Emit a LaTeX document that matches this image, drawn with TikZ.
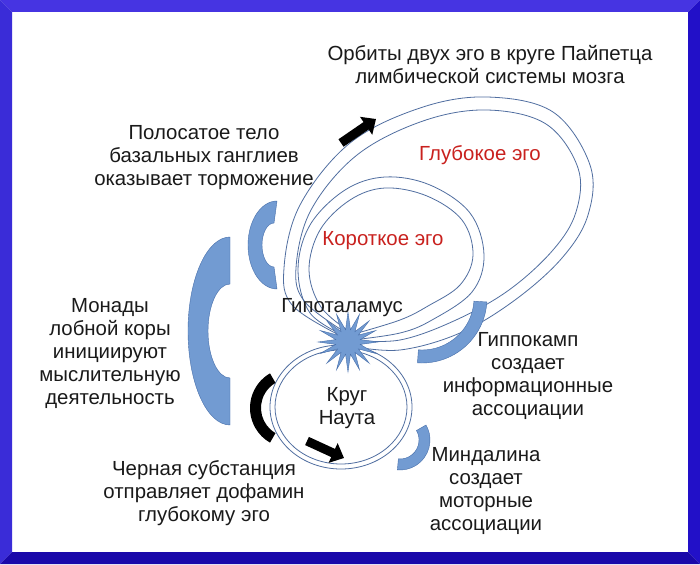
\documentclass[tikz,border=0pt]{standalone}
\usepackage{fontspec}
\setmainfont{Liberation Sans}
\usetikzlibrary{shapes.geometric,arrows.meta}

\definecolor{frametop}{RGB}{70,52,226}
\definecolor{frameleft}{RGB}{58,44,216}
\definecolor{frameright}{RGB}{34,16,200}
\definecolor{framebottom}{RGB}{26,8,170}
\definecolor{orbitline}{RGB}{80,110,160}
\definecolor{arcblue}{RGB}{114,155,210}
\definecolor{arcedge}{RGB}{70,110,170}
\definecolor{ink}{RGB}{26,26,26}
\definecolor{egored}{RGB}{201,33,30}

\tikzset{
  orbit/.style={draw=orbitline, line width=0.8pt},
  blockarc/.style={fill=arcblue, draw=arcedge, line width=0.4pt},
  fatarrow/.style={draw=black, line width=9pt, -{Triangle[length=12pt,width=21pt]}},
  txt/.style={font=\fontsize{20.4}{23}\selectfont, align=center, text=ink},
  ego/.style={txt, text=egored}
}

\begin{document}
\begin{tikzpicture}[x=1pt,y=-1pt]
  \useasboundingbox (0,0) rectangle (700,564);
  \fill[white] (0,0) rectangle (700,564);
  \fill[frametop] (0,0) -- (700,0) -- (688,12) -- (12,12) -- cycle;
  \fill[frameleft] (0,0) -- (12,12) -- (12,552) -- (0,564) -- cycle;
  \fill[frameright] (700,0) -- (700,564) -- (688,552) -- (688,12) -- cycle;
  \fill[framebottom] (0,564) -- (12,552) -- (688,552) -- (700,564) -- cycle;

  \draw[orbit] plot[smooth, tension=0.6] coordinates {(345,338) (293,306) (284,268) (300,205) (350,143) (420,108) (487,97) (553,112) (590,165) (588,215) (562,258) (515,300) (460,333) (400,350) (350,346)};
  \draw[orbit] plot[smooth, tension=0.6] coordinates {(348,334) (305,302) (296,268) (311,210) (357,155) (423,121) (487,110) (546,124) (578,168) (576,212) (553,250) (509,290) (456,320) (400,340) (350,340)};
  \draw[orbit] plot[smooth, tension=0.6] coordinates {(345,336) (310,313) (298,270) (310,225) (345,190) (385,177) (430,185) (470,213) (484,255) (472,292) (432,320) (400,333) (352,340)};
  \draw[orbit] plot[smooth, tension=0.6] coordinates {(350,332) (321,307) (309,270) (320,230) (350,200) (385,188) (427,196) (462,220) (473,255) (460,285) (428,306) (400,320) (354,334)};

  \draw[orbit] (341,407) ellipse [x radius=71, y radius=62];
  \draw[orbit] (341,407) ellipse [x radius=66, y radius=57];

  \filldraw[blockarc] (230,237) arc[start angle=270, end angle=90, x radius=42, y radius=94]
    -- (230,378) arc[start angle=90, end angle=270, x radius=22, y radius=47] -- cycle;
  \filldraw[blockarc] (277,201) arc[start angle=270, end angle=90, x radius=29, y radius=44]
    -- (274,267) arc[start angle=90, end angle=270, x radius=12, y radius=22] -- cycle;
  \filldraw[blockarc] ([shift={(3.5:65)}]422,298) arc[start angle=3.5, end angle=94, radius=65]
    -- ([shift={(94:52)}]422,298) arc[start angle=94, end angle=3.5, radius=52] -- cycle;
  \filldraw[blockarc] ([shift={(-30:30)}]400,440) arc[start angle=-30, end angle=95, radius=30]
    -- ([shift={(95:19)}]400,440) arc[start angle=95, end angle=-30, radius=19] -- cycle;

  \fill[black] ([shift={(240:40)}]290,408) arc[start angle=240, end angle=120, radius=40]
    -- ([shift={(120:29)}]290,408) arc[start angle=120, end angle=240, radius=29] -- cycle;
  \draw[fatarrow] (341,143) -- (376,119);
  \draw[fatarrow] (307,441) -- (344,458);

  \node[star, star points=16, star point ratio=2.4, minimum size=60pt, inner sep=0pt,
    fill=arcblue, draw=arcedge, line width=0.4pt] (hypostar) at (348,342) {};

  \node[txt] (title) at (490,64.5) {Орбиты двух эго в круге Пайпетца\\лимбической системы мозга};
  \node[txt] (striatum) at (204,157.5) {Полосатое тело\\базальных ганглиев\\оказывает торможение};
  \node[ego] (deepego) at (480,155) {Глубокое эго};
  \node[ego] (shortego) at (383,241) {Короткое эго};
  \node[txt] (hypothalamus) at (342,308) {Гипоталамус};
  \node[txt] (monads) at (110,354) {Монады\\лобной коры\\инициируют\\мыслительную\\деятельность};
  \node[txt] (hippocampus) at (528,376.5) {Гиппокамп\\создает\\информационные\\ассоциации};
  \node[txt] (nauta) at (347,408.5) {Круг\\Наута};
  \node[txt] (nigra) at (204,493) {Черная субстанция\\отправляет дофамин\\глубокому эго};
  \node[txt] (amygdala) at (486,491.5) {Миндалина\\создает\\моторные\\ассоциации};
\end{tikzpicture}
\end{document}
